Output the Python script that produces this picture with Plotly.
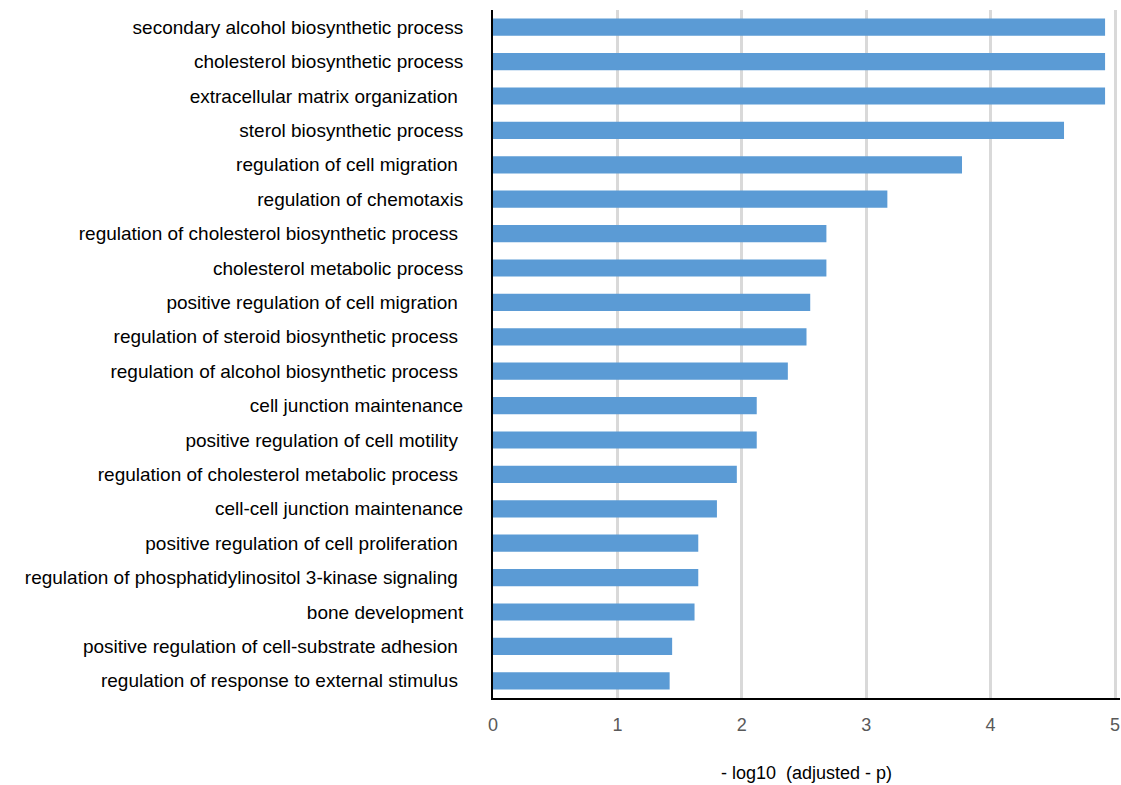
import plotly.graph_objects as go

# GO biological process terms, top to bottom
terms = [
    "secondary alcohol biosynthetic process",
    "cholesterol biosynthetic process",
    "extracellular matrix organization\u00a0",
    "sterol biosynthetic process",
    "regulation of cell migration\u00a0",
    "regulation of chemotaxis",
    "regulation of cholesterol biosynthetic process\u00a0",
    "cholesterol metabolic process",
    "positive regulation of cell migration\u00a0",
    "regulation of steroid biosynthetic process\u00a0",
    "regulation of alcohol biosynthetic process\u00a0",
    "cell junction maintenance",
    "positive regulation of cell motility\u00a0",
    "regulation of cholesterol metabolic process\u00a0",
    "cell-cell junction maintenance",
    "positive regulation of cell proliferation\u00a0",
    "regulation of phosphatidylinositol 3-kinase signaling\u00a0",
    "bone development",
    "positive regulation of cell-substrate adhesion\u00a0",
    "regulation of response to external stimulus\u00a0",
]

# -log10(adjusted p) per term
neg_log10_p = [
    4.92, 4.92, 4.92, 4.59, 3.77, 3.17, 2.68, 2.68, 2.55, 2.52,
    2.37, 2.12, 2.12, 1.96, 1.80, 1.65, 1.65, 1.62, 1.44, 1.42,
]

x_ticks = [0, 1, 2, 3, 4, 5]
x_title = "-\u00a0log10\u00a0\u00a0(adjusted\u00a0-\u00a0p)"

fig = go.Figure(
    go.Bar(
        x=neg_log10_p,
        y=terms,
        orientation="h",
        width=0.5,
        marker=dict(color="#5b9bd5", line=dict(width=0)),
        hoverinfo="x+y",
    )
)

fig.update_layout(
    width=1121,
    height=785,
    margin=dict(l=493, r=1, t=10, b=87),
    paper_bgcolor="white",
    plot_bgcolor="white",
    showlegend=False,
    font=dict(family="Liberation Sans, Arial, sans-serif", size=19, color="black"),
    bargap=0.5,
)

fig.update_xaxes(
    range=[0, 5.04],
    tickvals=x_ticks,
    ticktext=[str(v) for v in x_ticks],
    ticklabeloverflow="allow",
    showgrid=True,
    gridcolor="#d9d9d9",
    gridwidth=2.5,
    zeroline=False,
    showline=True,
    linecolor="black",
    linewidth=2,
    ticks="outside",
    ticklen=9,
    tickcolor="rgba(0,0,0,0)",
    tickfont=dict(size=18, color="#595959"),
    title=dict(text=x_title, font=dict(size=18, color="black"), standoff=33),
)

fig.update_yaxes(
    categoryorder="array",
    categoryarray=terms,
    autorange="reversed",
    showgrid=False,
    zeroline=False,
    showline=True,
    linecolor="black",
    linewidth=2,
    ticks="outside",
    ticklen=24,
    tickcolor="rgba(0,0,0,0)",
    tickfont=dict(size=19, color="black"),
)

fig.write_html("out.html")
